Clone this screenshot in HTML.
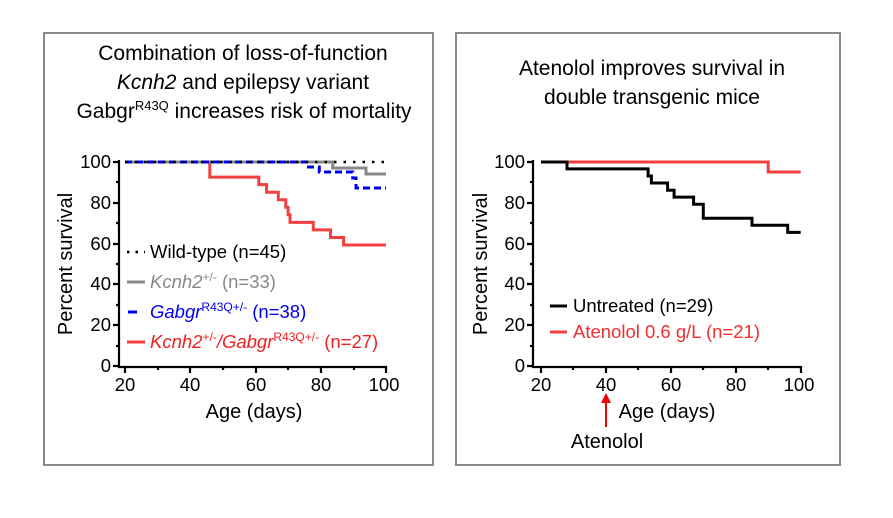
<!DOCTYPE html>
<html><head><style>
body{margin:0;background:#fff;}
svg{display:block;font-family:"Liberation Sans",Arial,sans-serif;}
</style></head><body>
<svg width="893" height="518" viewBox="0 0 893 518">
<rect x="44" y="33" width="389" height="432" fill="none" stroke="#8a8a8a" stroke-width="2"/>
<rect x="456" y="33" width="384" height="432" fill="none" stroke="#8a8a8a" stroke-width="2"/>
<g font-size="21" text-anchor="middle" fill="#000">
<text x="243" y="60">Combination of loss-of-function</text>
<text x="243" y="89"><tspan font-style="italic">Kcnh2</tspan> and epilepsy variant</text>
<text x="244" y="118">Gabgr<tspan font-size="13" dy="-8">R43Q</tspan><tspan dy="8"> increases risk of mortality</tspan></text>
<text x="652" y="75">Atenolol improves survival in</text>
<text x="652" y="104">double transgenic mice</text>
</g>
<!-- left axes -->
<g stroke="#000" stroke-width="2.2" fill="none">
<path d="M119,160 V367 H387"/>
<path d="M113,162H119M113,203H119M113,244H119M113,284H119M113,325H119M113,366H119"/>
<path d="M116,182H119M116,223H119M116,264H119M116,305H119M116,346H119"/>
<path d="M125,366V373M190,366V373M256,366V373M321,366V373M386,366V373"/>
<path d="M158,366V370M223,366V370M288,366V370M354,366V370"/>
</g>
<g font-size="18.5" text-anchor="end"><text x="111" y="168">100</text><text x="111" y="209">80</text><text x="111" y="250">60</text><text x="111" y="290">40</text><text x="111" y="331">20</text><text x="111" y="372">0</text></g>
<g font-size="18.5" text-anchor="middle"><text x="125" y="391">20</text><text x="190" y="391">40</text><text x="256" y="391">60</text><text x="321" y="391">80</text><text x="384" y="391">100</text></g>
<text x="254" y="418" font-size="20" text-anchor="middle">Age (days)</text>
<text transform="translate(72,264) rotate(-90)" font-size="20" text-anchor="middle">Percent survival</text>
<!-- left series -->
<path d="M125,162H209.8V177.1H258.8V184.6H266.6V192.2H278.3V199.7H285.8V207.3H288.1V214.8H290V222.4H313.3V229.9H330.5V237.5H343.6V245H386" stroke="#f04040" stroke-width="3" fill="none"/>
<path d="M125,162H332.7V168H366V174H386" stroke="#888" stroke-width="3" fill="none"/>
<path d="M125,162H306.7V167H319.3V172H352.7V178H356V188H386" stroke="#0000ee" stroke-width="3" stroke-dasharray="7,4" fill="none"/>
<path d="M125,162H386" stroke="#000" stroke-width="2.5" stroke-dasharray="2.5,7" fill="none"/>
<!-- left legend -->
<g font-size="18.5">
<path d="M127,252H145" stroke="#000" stroke-width="2.5" stroke-dasharray="2.5,6"/>
<text x="150" y="258">Wild-type (n=45)</text>
<path d="M127,282H145" stroke="#888" stroke-width="3"/>
<text x="150" y="288" fill="#888"><tspan font-style="italic">Kcnh2</tspan><tspan font-size="12" dy="-7">+/-</tspan><tspan dy="7">  (n=33)</tspan></text>
<path d="M128,312H137" stroke="#0000ee" stroke-width="3"/>
<text x="150" y="318" fill="#0000ee"><tspan font-style="italic">Gabgr</tspan><tspan font-size="12" dy="-7">R43Q+/-</tspan><tspan dy="7">  (n=38)</tspan></text>
<path d="M127,342H145" stroke="#f04040" stroke-width="3"/>
<text x="150" y="348" fill="#f02020"><tspan font-style="italic">Kcnh2</tspan><tspan font-size="12" dy="-7">+/-</tspan><tspan dy="7" font-style="italic">/Gabgr</tspan><tspan font-size="12" dy="-7">R43Q+/-</tspan><tspan dy="7">  (n=27)</tspan></text>
</g>
<!-- right axes -->
<g stroke="#000" stroke-width="2.2" fill="none">
<path d="M533,160 V367 H801"/>
<path d="M527,162H533M527,203H533M527,244H533M527,284H533M527,325H533M527,366H533"/>
<path d="M530,182H533M530,223H533M530,264H533M530,305H533M530,346H533"/>
<path d="M541,366V373M606,366V373M671,366V373M736,366V373M801,366V373"/>
<path d="M573,366V370M638,366V370M703,366V370M768,366V370"/>
</g>
<g font-size="18.5" text-anchor="end"><text x="525" y="168">100</text><text x="525" y="209">80</text><text x="525" y="250">60</text><text x="525" y="290">40</text><text x="525" y="331">20</text><text x="525" y="372">0</text></g>
<g font-size="18.5" text-anchor="middle"><text x="541" y="391">20</text><text x="606" y="391">40</text><text x="671" y="391">60</text><text x="736" y="391">80</text><text x="799" y="391">100</text></g>
<g font-size="20" text-anchor="middle"><text x="667" y="418">Age (days)</text><text x="607" y="448">Atenolol</text></g>
<text transform="translate(487,264) rotate(-90)" font-size="20" text-anchor="middle">Percent survival</text>
<path d="M606,427V398" stroke="#f00000" stroke-width="2"/>
<path d="M601,403L606,393L611,403Z" fill="#f00000"/>
<path d="M567,162H768.2V172H800.7" stroke="#f04040" stroke-width="3" fill="none"/>
<path d="M541,162H567V168.9H648.1V176H651.4V183H667.6V190.2H674.1V197.1H693.6V204.2H703.3V218.3H752V225.2H787.7V232.4H800.7" stroke="#000" stroke-width="3" fill="none"/>
<g font-size="18.5">
<path d="M550,306H567" stroke="#000" stroke-width="3"/>
<text x="573" y="312">Untreated (n=29)</text>
<path d="M550,332H567" stroke="#f04040" stroke-width="3"/>
<text x="573" y="338" fill="#f03030">Atenolol 0.6 g/L (n=21)</text>
</g>
</svg>
</body></html>
